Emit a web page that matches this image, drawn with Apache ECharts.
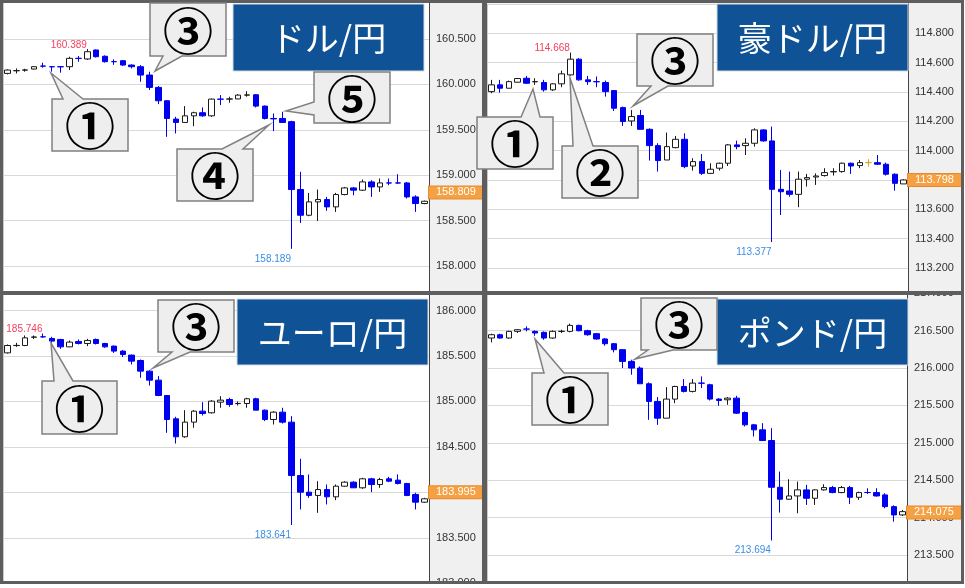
<!DOCTYPE html>
<html>
<head>
<meta charset="utf-8">
<script src="https://cdn.jsdelivr.net/npm/echarts@6/dist/echarts.min.js"></script>
<style>
html,body{margin:0;padding:0;background:#fff;width:965px;height:588px;overflow:hidden}
.panel{position:absolute;box-sizing:border-box;border:3px solid #5e5e5e;background:#f0f0f0;overflow:hidden}
.chart{position:absolute;left:0;top:0}
#overlay{position:absolute;left:0;top:0;width:965px;height:588px;pointer-events:none}
</style>
</head>
<body>
<div class="panel" style="left:0;top:0;width:485px;height:294px"><div class="chart" id="c0" style="width:479px;height:288px"></div></div>
<div class="panel" style="left:484px;top:0;width:480px;height:294px"><div class="chart" id="c1" style="width:474px;height:288px"></div></div>
<div class="panel" style="left:0;top:292px;width:485px;height:292px"><div class="chart" id="c2" style="width:479px;height:286px"></div></div>
<div class="panel" style="left:484px;top:292px;width:480px;height:292px"><div class="chart" id="c3" style="width:474px;height:286px"></div></div>
<div id="overlay"></div>
<script>
// ---- data: candles are [open, close, low, high] ----
const categories = ['1','2','3','4','5','6','7','8','9','10','11','12','13','14','15','16','17','18','19','20','21','22','23','24','25','26','27','28','29','30','31','32','33','34','35','36','37','38','39','40','41','42','43','44','45','46','47','48'];

const pairNames = ['ドル/円', '豪ドル/円', 'ユーロ/円', 'ポンド/円'];
const currentPrice = [158.809, 113.798, 183.995, 214.075];

const usdjpy = [
 [160.121,160.158,160.110,160.165],[160.150,160.152,160.121,160.176],[160.157,160.159,160.140,160.172],[160.169,160.195,160.165,160.200],
 [160.202,160.201,160.184,160.239],[160.195,160.194,160.140,160.200],[160.195,160.194,160.129,160.200],[160.195,160.287,160.158,160.305],
 [160.287,160.286,160.250,160.313],[160.280,160.360,160.270,160.389],[160.379,160.305,160.296,160.385],[160.310,160.250,160.240,160.320],
 [160.251,160.250,160.216,160.276],[160.261,160.213,160.205,160.268],[160.213,160.195,160.176,160.220],[160.195,160.103,160.029,160.213],
 [160.103,159.967,159.938,160.140],[159.967,159.820,159.783,159.982],[159.820,159.625,159.423,159.828],[159.618,159.581,159.460,159.643],
 [159.581,159.654,159.581,159.761],[159.654,159.688,159.540,159.699],[159.688,159.654,159.643,159.746],[159.654,159.838,159.643,159.845],
 [159.838,159.837,159.772,159.882],[159.838,159.840,159.798,159.864],[159.840,159.882,159.838,159.893],[159.882,159.884,159.864,159.925],
 [159.886,159.761,159.746,159.893],[159.761,159.625,159.614,159.768],[159.625,159.620,159.485,159.680],[159.625,159.581,159.581,159.699],
 [159.590,158.842,158.189,159.599],[158.842,158.559,158.474,159.037],[158.559,158.706,158.548,158.805],[158.706,158.732,158.496,158.842],
 [158.732,158.651,158.607,158.761],[158.651,158.787,158.596,158.805],[158.787,158.860,158.779,158.871],[158.860,158.835,158.779,158.871],
 [158.835,158.926,158.827,158.952],[158.926,158.871,158.761,158.945],[158.871,158.915,158.816,158.963],[158.915,158.914,158.890,158.963],
 [158.915,158.914,158.905,159.011],[158.915,158.761,158.743,158.926],[158.761,158.688,158.596,158.779],[158.688,158.713,158.680,158.720]
];

const audjpy = [
 [114.402,114.448,114.391,114.482],[114.448,114.425,114.395,114.482],[114.425,114.470,114.425,114.477],[114.466,114.491,114.464,114.495],
 [114.493,114.459,114.455,114.509],[114.469,114.470,114.448,114.493],[114.464,114.414,114.402,114.482],[114.414,114.455,114.407,114.459],
 [114.455,114.523,114.432,114.545],[114.516,114.623,114.511,114.668],[114.623,114.482,114.477,114.630],[114.482,114.470,114.448,114.509],
 [114.470,114.469,114.432,114.505],[114.464,114.402,114.368,114.477],[114.409,114.289,114.270,114.409],[114.293,114.198,114.168,114.300],
 [114.202,114.232,114.168,114.277],[114.239,114.145,114.145,114.277],[114.145,114.034,113.932,114.152],[114.034,113.932,113.857,114.050],
 [113.936,114.027,113.936,114.123],[114.020,114.077,114.016,114.100],[114.077,113.891,113.880,114.118],[113.895,113.925,113.864,113.948],
 [113.925,113.845,113.834,113.977],[113.845,113.873,113.841,113.914],[113.880,113.914,113.864,113.918],[113.914,114.039,113.895,114.045],
 [114.039,114.027,114.009,114.068],[114.034,114.050,113.970,114.084],[114.050,114.141,114.027,114.152],[114.141,114.066,114.061,114.145],
 [114.066,113.736,113.377,114.164],[113.736,113.720,113.561,113.868],[113.725,113.702,113.686,113.857],[113.702,113.805,113.614,113.857],
 [113.805,113.816,113.755,113.841],[113.820,113.827,113.766,113.845],[113.830,113.850,113.823,113.880],[113.855,113.857,113.830,113.880],
 [113.857,113.914,113.850,113.918],[113.914,113.895,113.841,113.918],[113.898,113.918,113.880,113.936],[113.918,113.918,113.891,113.941],
 [113.918,113.907,113.902,113.970],[113.907,113.839,113.830,113.918],[113.839,113.777,113.727,113.845],[113.773,113.800,113.773,113.805]
];

const eurjpy = [
 [185.534,185.615,185.527,185.626],[185.614,185.616,185.600,185.644],[185.615,185.699,185.608,185.725],[185.706,185.708,185.688,185.725],
 [185.711,185.710,185.699,185.746],[185.692,185.663,185.644,185.710],[185.681,185.600,185.578,185.688],[185.600,185.652,185.597,185.670],
 [185.659,185.637,185.626,185.681],[185.637,185.670,185.608,185.688],[185.681,185.637,185.626,185.692],[185.637,185.600,185.590,185.644],
 [185.608,185.553,185.534,185.615],[185.553,185.516,185.490,185.564],[185.509,185.443,185.406,185.516],[185.450,185.333,185.260,185.461],
 [185.333,185.234,185.175,185.344],[185.234,185.065,185.058,185.278],[185.065,184.801,184.655,185.065],[184.809,184.611,184.537,184.831],
 [184.611,184.772,184.600,184.904],[184.772,184.893,184.710,184.904],[184.893,184.867,184.845,184.992],[184.875,185.003,184.867,185.014],
 [184.992,185.014,184.930,185.058],[185.021,184.966,184.941,185.040],[184.976,184.978,184.955,185.000],[184.977,185.029,184.930,185.040],
 [185.029,184.904,184.904,185.040],[184.904,184.801,184.783,184.911],[184.801,184.882,184.746,184.893],[184.882,184.772,184.757,184.930],
 [184.772,184.185,183.641,184.838],[184.185,184.002,183.812,184.369],[184.002,183.966,183.940,184.197],[183.966,184.031,183.775,184.123],
 [184.031,183.951,183.867,184.087],[183.951,184.068,183.914,184.087],[184.068,184.112,184.061,184.123],[184.112,184.050,184.050,184.123],
 [184.050,184.149,184.039,184.160],[184.149,184.086,184.002,184.160],[184.086,184.141,184.050,184.160],[184.149,184.123,184.112,184.171],
 [184.134,184.097,184.087,184.197],[184.097,183.966,183.958,184.105],[183.977,183.892,183.812,183.995],[183.892,183.929,183.885,183.940]
];

const gbpjpy = [
 [216.402,216.446,216.344,216.460],[216.446,216.402,216.393,216.460],[216.402,216.491,216.393,216.500],[216.491,216.513,216.469,216.522],
 [216.522,216.521,216.491,216.558],[216.491,216.469,216.433,216.504],[216.478,216.402,216.379,216.491],[216.402,216.491,216.393,216.504],
 [216.490,216.492,216.469,216.513],[216.491,216.571,216.478,216.594],[216.571,216.500,216.491,216.580],[216.500,216.446,216.433,216.513],
 [216.460,216.389,216.379,216.469],[216.389,216.326,216.299,216.402],[216.326,216.246,216.210,216.335],[216.246,216.089,216.000,216.254],
 [216.089,216.000,215.911,216.112],[216.000,215.790,215.790,216.022],[215.790,215.554,215.308,215.808],[215.554,215.330,215.241,215.612],
 [215.330,215.585,215.330,215.746],[215.585,215.754,215.531,215.763],[215.754,215.688,215.674,215.853],[215.688,215.799,215.674,215.853],
 [215.799,215.798,215.732,215.888],[215.777,215.585,215.567,215.790],[215.585,215.567,215.496,215.598],[215.576,215.598,215.509,215.612],
 [215.598,215.397,215.388,215.629],[215.406,215.241,215.219,215.420],[215.241,215.174,215.085,215.254],[215.174,215.031,215.031,215.263],
 [215.031,214.406,213.694,215.196],[214.406,214.246,214.067,214.616],[214.246,214.290,214.237,214.513],[214.290,214.371,214.058,214.482],
 [214.371,214.259,214.170,214.438],[214.259,214.371,214.170,214.379],[214.371,214.402,214.362,214.446],[214.402,214.335,214.326,214.424],
 [214.335,214.402,214.326,214.424],[214.402,214.272,214.183,214.424],[214.272,214.335,214.237,214.348],[214.336,214.335,214.317,214.393],
 [214.335,214.290,214.281,214.393],[214.304,214.147,214.125,214.326],[214.147,214.036,213.946,214.165],[214.036,214.080,214.022,214.103]
];

// y-axis tick settings per panel: [min, max, interval]
const yTicks = [[157.5, 161.0, 0.5], [113.0, 115.0, 0.2], [183.0, 186.5, 0.5], [213.0, 217.0, 0.5]];

// ---- layout (pixels) ----
const panelLayout = [
  {id:'c0', plotW:426, gridTop:-9.4, gridH:317.8, showHigh:true, hideMax:false},
  {id:'c1', plotW:421, gridTop:0.85, gridH:293.5, showHigh:true, hideMax:true},
  {id:'c2', plotW:426, gridTop:-30, gridH:318.3, showHigh:true, hideMax:false},
  {id:'c3', plotW:420, gridTop:-1.7, gridH:299.1, showHigh:false, hideMax:false}
];
const series = [usdjpy, audjpy, eurjpy, gbpjpy];
const NUM_FONT = '"Liberation Sans", Arial, sans-serif';
const UP_BORDER = '#1a1a1a', DOWN = '#0000f0';

panelLayout.forEach((L, k) => {
  const chart = echarts.init(document.getElementById(L.id), null, {renderer:'canvas'});
  const [mn, mx, iv] = yTicks[k];
  const mpData = [];
  if (L.showHigh) mpData.push({type:'max', valueDim:'highest', label:{position:'left', distance:0, offset:[0,-4], color:'#f5405e'}});
  mpData.push({type:'min', valueDim:'lowest', label:{position:'left', distance:0, offset:[0,10], color:'#3a8ee6'}});
  chart.setOption({
    animation:false,
    backgroundColor:'transparent',
    grid:{left:0, top:L.gridTop, width:L.plotW, height:L.gridH, show:true, backgroundColor:'#ffffff', borderWidth:0,
          containLabel:false, outerBoundsMode:'none'},
    xAxis:{
      type:'category', data:categories, boundaryGap:true,
      axisLine:{show:false}, axisTick:{show:false}, axisLabel:{show:false},
      splitLine:{show:true, interval:(i) => i === 36, lineStyle:{color:'#c8c8c8', width:1}}
    },
    yAxis:{
      type:'value', position:'right', min:mn, max:mx, interval:iv, scale:true,
      axisLine:{show:true, lineStyle:{color:'#444', width:1}},
      axisTick:{show:false},
      axisLabel:{margin:7, color:'#333', fontSize:11, fontFamily:NUM_FONT, showMaxLabel:!L.hideMax,
                 hideOverlap:false, formatter:(v) => v.toFixed(3)},
      splitLine:{show:true, lineStyle:{color:'#d9d9d9', width:1}}
    },
    series:[{
      type:'candlestick', data:series[k], barWidth:6, clip:false, silent:true,
      itemStyle:{color:'#ffffff', color0:DOWN, borderColor:UP_BORDER, borderColor0:DOWN, borderColorDoji:'#d9a520', borderWidth:1},
      markPoint:{
        silent:true, symbol:'circle', symbolSize:1, itemStyle:{color:'rgba(0,0,0,0)'},
        label:{show:true, fontSize:10, fontFamily:NUM_FONT, formatter:(p) => Number(p.value).toFixed(3)},
        data:mpData
      },
      markLine:{
        silent:true, symbol:['none','none'],
        lineStyle:{color:'rgba(0,0,0,0)', width:1, type:'solid'},
        label:{show:true, position:'end', distance:0, color:'#ffffff', backgroundColor:'#f5a043',
               borderColor:'#e88a2a', borderWidth:1, padding:[1,7,0,7], fontSize:11, fontFamily:NUM_FONT,
               formatter:() => currentPrice[k].toFixed(3)},
        data:[{yAxis:currentPrice[k]}]
      }
    }]
  });
});

// ---- overlay: titles and callouts (annotation layout) ----
const titleBoxes = [
  {x:233, y:4, w:191, h:67}, {x:717, y:4, w:191, h:67},
  {x:237, y:299, w:191, h:66}, {x:717, y:299, w:191, h:66}
];
const callouts = [
  {n:'③', x:150, y:3, w:76, h:53, side:'bottom', b1:163, b2:182, tx:155, ty:71},
  {n:'①', x:52, y:99, w:76, h:52, side:'top', b1:63, b2:83, tx:51, ty:73},
  {n:'④', x:177, y:149, w:76, h:52, side:'top', b1:222, b2:243, tx:269, ty:125},
  {n:'⑤', x:314, y:72, w:76, h:51, side:'left', b1:102, b2:115, tx:286, ty:111},
  {n:'③', x:637, y:34, w:76, h:52, side:'bottom', b1:651, b2:668, tx:633, ty:106},
  {n:'①', x:477, y:117, w:76, h:52, side:'top', b1:521, b2:540, tx:533, ty:89},
  {n:'②', x:562, y:146, w:76, h:52, side:'top', b1:573, b2:593, tx:570, ty:78},
  {n:'③', x:158, y:300, w:76, h:52, side:'bottom', b1:172, b2:190, tx:153, ty:368},
  {n:'①', x:42, y:381, w:75, h:53, side:'top', b1:54, b2:73, tx:51, ty:343},
  {n:'③', x:641, y:298, w:76, h:52, side:'bottom', b1:648, b2:673, tx:635, ty:359},
  {n:'①', x:532, y:373, w:76, h:52, side:'top', b1:544, b2:564, tx:535, ty:339}
];
function calloutPoints(c) {
  const x2 = c.x + c.w, y2 = c.y + c.h;
  if (c.side === 'bottom') return [[c.x,c.y],[x2,c.y],[x2,y2],[c.b2,y2],[c.tx,c.ty],[c.b1,y2],[c.x,y2]];
  if (c.side === 'top') return [[c.x,c.y],[c.b1,c.y],[c.tx,c.ty],[c.b2,c.y],[x2,c.y],[x2,y2],[c.x,y2]];
  return [[c.x,c.y],[x2,c.y],[x2,y2],[c.x,y2],[c.x,c.b2],[c.tx,c.ty],[c.x,c.b1]];
}
const elements = [];
titleBoxes.forEach((t, i) => {
  elements.push({type:'rect', z:10, shape:{x:t.x, y:t.y, width:t.w, height:t.h},
    style:{fill:'#0f5396', stroke:'#d3dbe4', lineWidth:1}});
  elements.push({type:'text', z:11, x:t.x + t.w/2, y:t.y + t.h/2 + 1,
    style:{text:pairNames[i], fill:'#ffffff', font:'34px "Noto Sans CJK JP"', align:'center', verticalAlign:'middle'}});
});
callouts.forEach((c) => {
  elements.push({type:'polygon', z:20, shape:{points:calloutPoints(c)},
    style:{fill:'#eeeeee', stroke:'#808080', lineWidth:1.5}});
  elements.push({type:'text', z:21, x:c.x + c.w/2, y:c.y + c.h/2 + 1,
    style:{text:c.n, fill:'#000000', font:'bold 50px "Noto Sans CJK JP"', align:'center', verticalAlign:'middle'}});
});
const overlay = echarts.init(document.getElementById('overlay'), null, {renderer:'canvas'});
overlay.setOption({animation:false, graphic:{elements:elements}});
</script>
</body>
</html>
